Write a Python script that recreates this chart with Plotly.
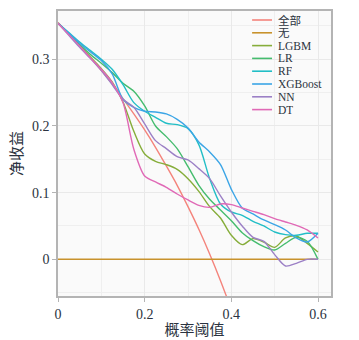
import plotly.graph_objects as go

# ---------------- data ----------------
thresholds = [0, 0.025, 0.05, 0.075, 0.1, 0.125, 0.15, 0.175, 0.2, 0.225, 0.25,
              0.275, 0.3, 0.325, 0.35, 0.375, 0.4, 0.425, 0.45, 0.475, 0.5,
              0.525, 0.55, 0.575, 0.6]

nb_all = [0.355, 0.338, 0.321, 0.303, 0.283, 0.263, 0.241, 0.218, 0.194, 0.168,
          0.140, 0.111, 0.079, 0.045, 0.008, -0.032, -0.075]
nb_none = [0.0] * 25
nb_lgbm = [0.354, 0.338, 0.321, 0.303, 0.286, 0.266, 0.236, 0.192, 0.158, 0.147,
           0.142, 0.135, 0.121, 0.102, 0.079, 0.062, 0.036, 0.022, 0.031, 0.026,
           0.018, 0.032, 0.035, 0.024, 0.011]
nb_lr = [0.354, 0.338, 0.322, 0.307, 0.294, 0.280, 0.264, 0.252, 0.230, 0.200,
         0.184, 0.166, 0.139, 0.111, 0.090, 0.074, 0.058, 0.040, 0.028, 0.019,
         0.014, 0.024, 0.033, 0.027, 0.0]
nb_rf = [0.354, 0.340, 0.326, 0.313, 0.300, 0.285, 0.262, 0.235, 0.222, 0.213,
         0.204, 0.202, 0.196, 0.172, 0.121, 0.083, 0.071, 0.066, 0.057, 0.050,
         0.041, 0.037, 0.036, 0.039, 0.039]
nb_xgb = [0.354, 0.339, 0.324, 0.311, 0.298, 0.278, 0.240, 0.228, 0.222, 0.221,
          0.218, 0.210, 0.197, 0.176, 0.161, 0.142, 0.105, 0.077, 0.068, 0.059,
          0.052, 0.044, 0.032, 0.026, 0.039]
nb_nn = [0.354, 0.336, 0.318, 0.301, 0.283, 0.262, 0.240, 0.228, 0.203, 0.178,
         0.166, 0.154, 0.149, 0.136, 0.121, 0.095, 0.071, 0.050, 0.033, 0.027,
         0.007, -0.010, -0.006, 0.0, 0.0]
nb_dt = [0.354, 0.337, 0.320, 0.302, 0.285, 0.265, 0.235, 0.165, 0.125, 0.116,
         0.108, 0.098, 0.089, 0.081, 0.078, 0.083, 0.082, 0.077, 0.072, 0.067,
         0.061, 0.056, 0.051, 0.044, 0.032]

series_names = ["全部", "无", "LGBM", "LR", "RF", "XGBoost", "NN", "DT"]
series_values = [nb_all, nb_none, nb_lgbm, nb_lr, nb_rf, nb_xgb, nb_nn, nb_dt]
series_colors = ["#F4837B", "#C8922C", "#86AD3A", "#45BC6E", "#22BEC6",
                 "#3BA5E6", "#9C80C6", "#E069B6"]

x_ticks = [0, 0.2, 0.4, 0.6]
x_ticklabels = ["0", "0.2", "0.4", "0.6"]
y_ticks = [0, 0.1, 0.2, 0.3]
y_ticklabels = ["0", "0.1", "0.2", "0.3"]

# ---------------- figure ----------------
FONT = "Liberation Serif, 'Times New Roman', 'Noto Sans CJK SC', serif"
TXT = "#2b3340"

fig = go.Figure()
for name, vals, col in zip(series_names, series_values, series_colors):
    shape = "linear" if name in ("无",) else "spline"
    fig.add_trace(go.Scatter(
        x=thresholds[:len(vals)], y=vals, name=name, mode="lines",
        line=dict(color=col, width=1.4, shape=shape, smoothing=0.8),
        showlegend=False, hoverinfo="skip"))

# legend panel (drawn as layout elements to match compact spacing)
fig.add_shape(type="rect", xref="paper", yref="paper",
              x0=0.703, x1=1.0, y0=0.632, y1=1.0,
              fillcolor="#fafafa", line=dict(width=0), layer="between")
for i, (name, col) in enumerate(zip(series_names, series_colors)):
    yy = 1 - (20 + 12.8 * i - 11) / 285
    fig.add_shape(type="line", xref="paper", yref="paper",
                  x0=0.711, x1=0.784, y0=yy, y1=yy,
                  line=dict(color=col, width=1.6), layer="above")
    fig.add_annotation(xref="paper", yref="paper", x=0.800, y=yy,
                       text=name, showarrow=False, xanchor="left",
                       yanchor="middle", height=12,
                       font=dict(family=FONT, size=11.5, color=TXT))

axis_common = dict(
    showline=True, linecolor="#b4b4b4", linewidth=1.5, mirror=True,
    ticks="outside", ticklen=4, tickcolor="#b4b4b4", tickwidth=1,
    gridcolor="#e9e9e9", gridwidth=1, zeroline=False, automargin=False,
    tickfont=dict(family=FONT, size=14, color=TXT),
)

fig.update_xaxes(
    range=[0, 0.63], tickvals=x_ticks, ticktext=x_ticklabels,
    minor=dict(dtick=0.1, tick0=0, showgrid=True, gridcolor="#efefef", ticks=""),
    title=dict(text="概率阈值", font=dict(family=FONT, size=15, color=TXT), standoff=4),
    **axis_common)
fig.update_yaxes(
    range=[-0.055, 0.3724], tickvals=y_ticks, ticktext=y_ticklabels,
    minor=dict(dtick=0.05, tick0=0, showgrid=True, gridcolor="#efefef", ticks=""),
    title=dict(text="净收益", font=dict(family=FONT, size=15, color=TXT), standoff=6),
    **axis_common)

fig.update_layout(
    width=359, height=340,
    margin=dict(l=58, r=28, t=11, b=44, autoexpand=False),
    paper_bgcolor="white", plot_bgcolor="#fafafa",
    font=dict(family=FONT, color=TXT),
    showlegend=False,
)

fig.write_html("out.html")
